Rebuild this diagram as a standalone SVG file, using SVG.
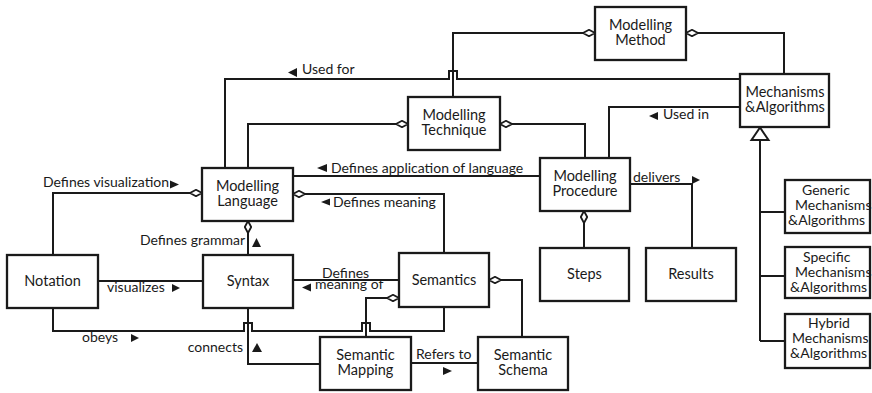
<svg xmlns="http://www.w3.org/2000/svg" width="872" height="393" viewBox="0 0 872 393">
  <style>
    .box { fill: #ffffff; stroke: #1a1a1a; stroke-width: 2.3; }
    .edge { fill: none; stroke: #1a1a1a; stroke-width: 2; }
    .agg { marker-start: url(#diamond); }
    text { font-family: Lato, "Liberation Sans", sans-serif; font-size: 14px; fill: #1a1a1a; }
    .node text { font-size: 14.5px; }
    .node.sub text { font-size: 14px; }
    .c { text-anchor: middle; }
    .e { text-anchor: end; }
    .tri { fill: #1a1a1a; stroke: none; }
    .gen { fill: #ffffff; stroke: #1a1a1a; stroke-width: 2; }
  </style>
  <defs>
    <!-- hollow aggregation diamond, drawn outward from the owning box -->
    <marker id="diamond" viewBox="0 0 13 8" refX="0.5" refY="4" markerWidth="13" markerHeight="8" markerUnits="userSpaceOnUse" orient="auto">
      <polygon points="0.5,4 6.5,0.8 12.5,4 6.5,7.2" fill="#ffffff" stroke="#1a1a1a" stroke-width="1.8"/>
    </marker>
  </defs>

  <rect width="872" height="393" fill="#ffffff"/>

  <!-- connectors -->
  <g id="connectors">
    <path class="edge agg" d="M595 33 H453 V97"/>
    <path class="edge agg" d="M686 33 H784 V74"/>
    <path class="edge" d="M740 79 H457 V71 H449 V79 H225 V168"/>
    <path class="edge" d="M740 107 H609 V158"/>
    <path class="edge agg" d="M408 124 H248 V168"/>
    <path class="edge agg" d="M500 124 H585 V158"/>
    <path class="edge" d="M540 176 H293"/>
    <path class="edge agg" d="M293 194 H444 V253"/>
    <path class="edge agg" d="M202 193 H53 V255"/>
    <path class="edge agg" d="M248 221 V255"/>
    <path class="edge" d="M98 281 H203"/>
    <path class="edge" d="M293 280 H399"/>
    <path class="edge" d="M53 308 V331 H244 V323 H252 V331 H362 V323 H370 V331 H444 V307"/>
    <path class="edge" d="M248 308 V364 H320"/>
    <path class="edge agg" d="M399 298 H366 V337"/>
    <path class="edge" d="M411 363 H478"/>
    <path class="edge agg" d="M489 280 H522 V337"/>
    <path class="edge agg" d="M584 211 V248"/>
    <path class="edge" d="M630 184 H692 V248"/>
    <!-- specialisation tree -->
    <path class="edge" d="M760 140 V341 M760 212 H785 M760 276 H785 M760 341 H785"/>
    <polygon class="gen" points="760,127.5 768.5,140 751.5,140"/>

    <!-- role labels with direction arrows -->
    <polygon class="tri" points="288,72.5 297,68 297,77"/>
    <text x="302" y="74">Used for</text>
    <polygon class="tri" points="649,116 658,112 658,120"/>
    <text x="663" y="119">Used in</text>
    <text x="633" y="182">delivers</text>
    <polygon class="tri" points="692,176 692,184 700,180"/>
    <polygon class="tri" points="317,168 327,164 327,172"/>
    <text x="331" y="173">Defines application of language</text>
    <polygon class="tri" points="321,202 330,198.5 330,205.5"/>
    <text x="333" y="207">Defines meaning</text>
    <text x="43" y="187">Defines visualization</text>
    <polygon class="tri" points="170,180.5 170,188.5 179,184.5"/>
    <text class="e" x="245" y="245">Defines grammar</text>
    <polygon class="tri" points="256.5,238 261,247 252,247"/>
    <text x="107" y="292">visualizes</text>
    <polygon class="tri" points="172,284 172,292 180,288"/>
    <text x="82" y="342">obeys</text>
    <polygon class="tri" points="131,334 131,342 139,338"/>
    <text class="e" x="243" y="352">connects</text>
    <polygon class="tri" points="257,343 262,352 252,352"/>
    <text x="322" y="278">Defines</text>
    <text x="315" y="289">meaning of</text>
    <polygon class="tri" points="302,287.5 311,283.5 311,291.5"/>
    <text x="416" y="359">Refers to</text>
    <polygon class="tri" points="443,367 443,375 452,371"/>
  </g>

  <g id="modelling-method" class="node">
    <rect class="box" x="595" y="7" width="91" height="53"/>
    <text class="c" x="640.5" y="30">Modelling</text>
    <text class="c" x="640.5" y="45">Method</text>
  </g>
  <g id="mechanisms-algorithms" class="node">
    <rect class="box" x="740" y="74" width="89" height="53"/>
    <text class="c" x="785" y="97">Mechanisms</text>
    <text class="c" x="785" y="112">&amp;Algorithms</text>
  </g>
  <g id="modelling-technique" class="node">
    <rect class="box" x="408" y="97" width="92" height="53"/>
    <text class="c" x="454" y="120">Modelling</text>
    <text class="c" x="454" y="135">Technique</text>
  </g>
  <g id="modelling-language" class="node">
    <rect class="box" x="202" y="168" width="91" height="53"/>
    <text class="c" x="247.5" y="191">Modelling</text>
    <text class="c" x="247.5" y="206">Language</text>
  </g>
  <g id="modelling-procedure" class="node">
    <rect class="box" x="540" y="158" width="90" height="53"/>
    <text class="c" x="585" y="181">Modelling</text>
    <text class="c" x="585" y="196">Procedure</text>
  </g>
  <g id="notation" class="node">
    <rect class="box" x="7" y="255" width="91" height="53"/>
    <text class="c" x="52.5" y="286">Notation</text>
  </g>
  <g id="syntax" class="node">
    <rect class="box" x="203" y="255" width="90" height="53"/>
    <text class="c" x="248" y="286">Syntax</text>
  </g>
  <g id="semantics" class="node">
    <rect class="box" x="399" y="253" width="90" height="54"/>
    <text class="c" x="444" y="285">Semantics</text>
  </g>
  <g id="semantic-mapping" class="node">
    <rect class="box" x="320" y="337" width="91" height="53"/>
    <text class="c" x="365.5" y="360">Semantic</text>
    <text class="c" x="365.5" y="375">Mapping</text>
  </g>
  <g id="semantic-schema" class="node">
    <rect class="box" x="478" y="337" width="90" height="53"/>
    <text class="c" x="523" y="360">Semantic</text>
    <text class="c" x="523" y="375">Schema</text>
  </g>
  <g id="steps" class="node">
    <rect class="box" x="540" y="248" width="89" height="53"/>
    <text class="c" x="584.5" y="279">Steps</text>
  </g>
  <g id="results" class="node">
    <rect class="box" x="646" y="248" width="90" height="53"/>
    <text class="c" x="691" y="279">Results</text>
  </g>
  <g id="generic-mechanisms" class="node sub">
    <rect class="box" x="785" y="180" width="85" height="53"/>
    <text x="802" y="195">Generic</text>
    <text x="795" y="210">Mechanisms</text>
    <text x="788" y="225">&amp;Algorithms</text>
  </g>
  <g id="specific-mechanisms" class="node sub">
    <rect class="box" x="785" y="247" width="85" height="51"/>
    <text x="803" y="262">Specific</text>
    <text x="795" y="277">Mechanisms</text>
    <text x="790" y="292">&amp;Algorithms</text>
  </g>
  <g id="hybrid-mechanisms" class="node sub">
    <rect class="box" x="785" y="314" width="85" height="54"/>
    <text x="808" y="328">Hybrid</text>
    <text x="792" y="343">Mechanisms</text>
    <text x="790" y="358">&amp;Algorithms</text>
  </g>
</svg>
